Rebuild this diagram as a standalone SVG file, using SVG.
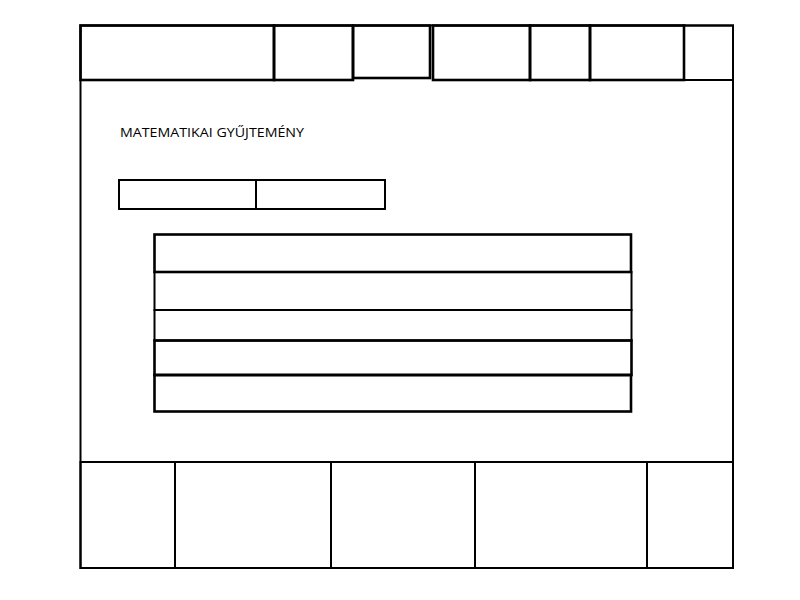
<svg xmlns="http://www.w3.org/2000/svg" width="800" height="600" viewBox="0 0 800 600">
<style>
.b{fill:none;stroke:#000;stroke-width:2}
.t{fill:none;stroke:#000;stroke-width:2.6}
.lbl{font-family:"Open Sans","Liberation Sans",Arial,sans-serif;font-size:13.5px;fill:#000}
</style>
<rect width="800" height="600" fill="#fff"/>
<g id="frame"><rect class="b" x="80.5" y="25.5" width="652.5" height="542.5"/></g>
<g id="header">
<rect class="t" x="80.5" y="25.5" width="193.5" height="54.5"/>
<rect class="t" x="274" y="25.5" width="79" height="54.5"/>
<rect class="t" x="353" y="25.5" width="77" height="52.5"/>
<rect class="t" x="433" y="25.5" width="97" height="54.5"/>
<rect class="t" x="530" y="25.5" width="60" height="54.5"/>
<rect class="t" x="590" y="25.5" width="94" height="54.5"/>
<rect class="b" x="684" y="25.5" width="49" height="54.5"/>
</g>
<g id="title"><text class="lbl" x="120" y="137" textLength="184" lengthAdjust="spacingAndGlyphs">MATEMATIKAI GYŰJTEMÉNY</text></g>
<g id="tabs">
<rect class="b" x="119" y="180" width="137" height="29"/>
<rect class="b" x="256" y="180" width="129" height="29"/>
</g>
<g id="list">
<rect class="t" x="154.5" y="234.5" width="476.5" height="37.5"/>
<rect class="b" x="154.5" y="272" width="477" height="38"/>
<rect class="b" x="154.5" y="310" width="477" height="30.5"/>
<rect class="t" x="154.5" y="340.5" width="477" height="34.5"/>
<rect class="t" x="154.5" y="375" width="476.5" height="36.5"/>
</g>
<g id="footer">
<rect class="b" x="80.5" y="462" width="94.5" height="106"/>
<rect class="b" x="175" y="462" width="156" height="106"/>
<rect class="b" x="331" y="462" width="144" height="106"/>
<rect class="b" x="475" y="462" width="172" height="106"/>
<rect class="b" x="647" y="462" width="86" height="106"/>
</g>
<g id="connectors"></g>
</svg>
